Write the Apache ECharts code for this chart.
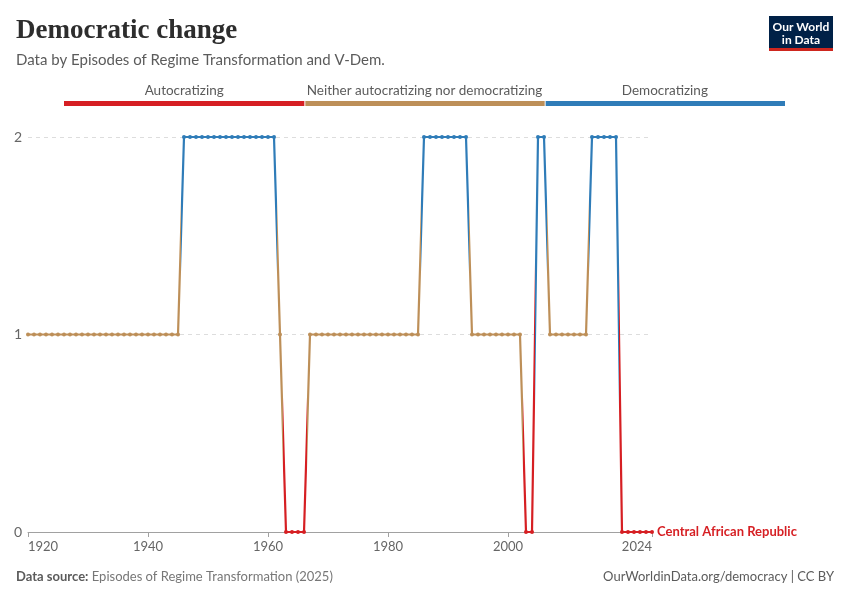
<!DOCTYPE html>
<html>
<head>
<meta charset="utf-8">
<script src="https://cdn.jsdelivr.net/npm/echarts@6/dist/echarts.min.js"></script>
<style>
html,body{margin:0;padding:0;background:#fff;}
#chart{width:850px;height:600px;}
</style>
</head>
<body>
<div id="chart"></div>
<script>
// ---- Data ----
const years = [
  1920,1921,1922,1923,1924,1925,1926,1927,1928,1929,
  1930,1931,1932,1933,1934,1935,1936,1937,1938,1939,
  1940,1941,1942,1943,1944,1945,1946,1947,1948,1949,
  1950,1951,1952,1953,1954,1955,1956,1957,1958,1959,
  1960,1961,1962,1963,1964,1965,1966,1967,1968,1969,
  1970,1971,1972,1973,1974,1975,1976,1977,1978,1979,
  1980,1981,1982,1983,1984,1985,1986,1987,1988,1989,
  1990,1991,1992,1993,1994,1995,1996,1997,1998,1999,
  2000,2001,2002,2003,2004,2005,2006,2007,2008,2009,
  2010,2011,2012,2013,2014,2015,2016,2017,2018,2019,
  2020,2021,2022,2023,2024
];
// 0 = Autocratizing, 1 = Neither, 2 = Democratizing
const values = [
  1,1,1,1,1,1,1,1,1,1,
  1,1,1,1,1,1,1,1,1,1,
  1,1,1,1,1,1,2,2,2,2,
  2,2,2,2,2,2,2,2,2,2,
  2,2,1,0,0,0,0,1,1,1,
  1,1,1,1,1,1,1,1,1,1,
  1,1,1,1,1,1,2,2,2,2,
  2,2,2,2,1,1,1,1,1,1,
  1,1,1,0,0,2,2,1,1,1,
  1,1,1,1,2,2,2,2,2,0,
  0,0,0,0,0
];
const categoryNames = ['Autocratizing', 'Neither autocratizing nor democratizing', 'Democratizing'];
const categoryColors = ['#d61f23', '#bd8f58', '#2f7cb8'];
const xTickYears = [1920, 1940, 1960, 1980, 2000, 2024];
const yTickValues = [0, 1, 2];
const countryName = 'Central African Republic';

// ---- Build color pieces along x (switch at midpoint between years) ----
const pieces = [];
let runStart = 0;
for (let i = 1; i <= values.length; i++) {
  if (i === values.length || values[i] !== values[runStart]) {
    const lo = runStart === 0 ? years[0] - 1 : (years[runStart - 1] + years[runStart]) / 2;
    const hi = i === values.length ? years[years.length - 1] + 1 : (years[i - 1] + years[i]) / 2;
    pieces.push({ gte: lo, lt: hi, color: categoryColors[values[runStart]] });
    runStart = i;
  }
}

const chart = echarts.init(document.getElementById('chart'), null, { renderer: 'canvas' });

// legend graphic
const legendLeft = 64, legendWidth = 721;
const segW = legendWidth / categoryNames.length;
const legendGraphics = [];
categoryNames.forEach((name, i) => {
  legendGraphics.push({
    type: 'rect',
    shape: { x: legendLeft + i * segW + (i > 0 ? 1 : 0), y: 101, width: segW - (i > 0 ? 1 : 0), height: 5 },
    style: { fill: categoryColors[i] }
  });
  legendGraphics.push({
    type: 'text',
    x: legendLeft + i * segW + segW / 2, y: 91,
    style: { text: name, fill: '#5b5b5b', font: '13.5px Lato', align: 'center', verticalAlign: 'middle' }
  });
});

const option = {
  backgroundColor: '#ffffff',
  animation: false,
  textStyle: { fontFamily: 'Lato' },
  grid: { left: 28, right: 198, top: 137, bottom: 68, containLabel: false },
  xAxis: {
    type: 'value',
    min: 1920,
    max: 2024,
    axisLine: { show: true, lineStyle: { color: '#a1a1a1', width: 1 } },
    axisTick: { show: true, customValues: xTickYears, length: 5, lineStyle: { color: '#a1a1a1' } },
    axisLabel: {
      customValues: xTickYears,
      color: '#666', fontSize: 13, fontFamily: 'Lato', margin: 8,
      alignMinLabel: 'left', alignMaxLabel: 'right',
      formatter: v => String(v)
    },
    splitLine: { show: false }
  },
  yAxis: {
    type: 'value',
    min: 0, max: 2, interval: 1,
    axisLine: { show: false },
    axisTick: { show: false },
    axisLabel: { color: '#666', fontSize: 14, fontFamily: 'Lato', margin: 6 },
    splitLine: { show: true, lineStyle: { color: '#dddddd', type: [4, 4], width: 1 } }
  },
  visualMap: {
    type: 'piecewise',
    show: false,
    dimension: 0,
    seriesIndex: 0,
    pieces: pieces
  },
  series: [{
    type: 'line',
    name: countryName,
    data: years.map((y, i) => [y, values[i]]),
    symbol: 'circle',
    symbolSize: 4,
    showAllSymbol: true,
    lineStyle: { width: 2.2 },
    z: 5,
    endLabel: {
      show: true,
      formatter: countryName,
      color: categoryColors[values[values.length - 1]],
      fontFamily: 'Lato', fontSize: 13, fontWeight: 'bold',
      distance: 5
    }
  }],
  graphic: [
    {
      type: 'text', left: 16, top: 18,
      style: { text: 'Democratic change', fill: '#2d2d2d', font: 'bold 27px "Liberation Serif"' }
    },
    {
      type: 'text', left: 16, top: 53,
      style: { text: 'Data by Episodes of Regime Transformation and V-Dem.', fill: '#5b5b5b', font: '15px Lato' }
    },
    // logo
    { type: 'rect', shape: { x: 769, y: 16, width: 64, height: 35 }, style: { fill: '#002147' } },
    { type: 'rect', shape: { x: 769, y: 48, width: 64, height: 3 }, style: { fill: '#ce261e' } },
    {
      type: 'text', x: 801, y: 27,
      style: { text: 'Our World', fill: '#fff', font: 'bold 12px Lato', align: 'center', verticalAlign: 'middle' }
    },
    {
      type: 'text', x: 801, y: 40,
      style: { text: 'in Data', fill: '#fff', font: 'bold 12px Lato', align: 'center', verticalAlign: 'middle' }
    },
    ...legendGraphics,
    // footer
    {
      type: 'text', x: 16, y: 577,
      style: {
        text: '{b|Data source:} Episodes of Regime Transformation (2025)',
        verticalAlign: 'middle',
        rich: {
          b: { fill: '#5b5b5b', font: 'bold 13px Lato' }
        },
        fill: '#777', font: '13px Lato'
      }
    },
    {
      type: 'text', x: 834, y: 577,
      style: { text: 'OurWorldinData.org/democracy | CC BY', fill: '#5b5b5b', font: '13px Lato', align: 'right', verticalAlign: 'middle' }
    }
  ]
};
chart.setOption(option);
</script>
</body>
</html>
